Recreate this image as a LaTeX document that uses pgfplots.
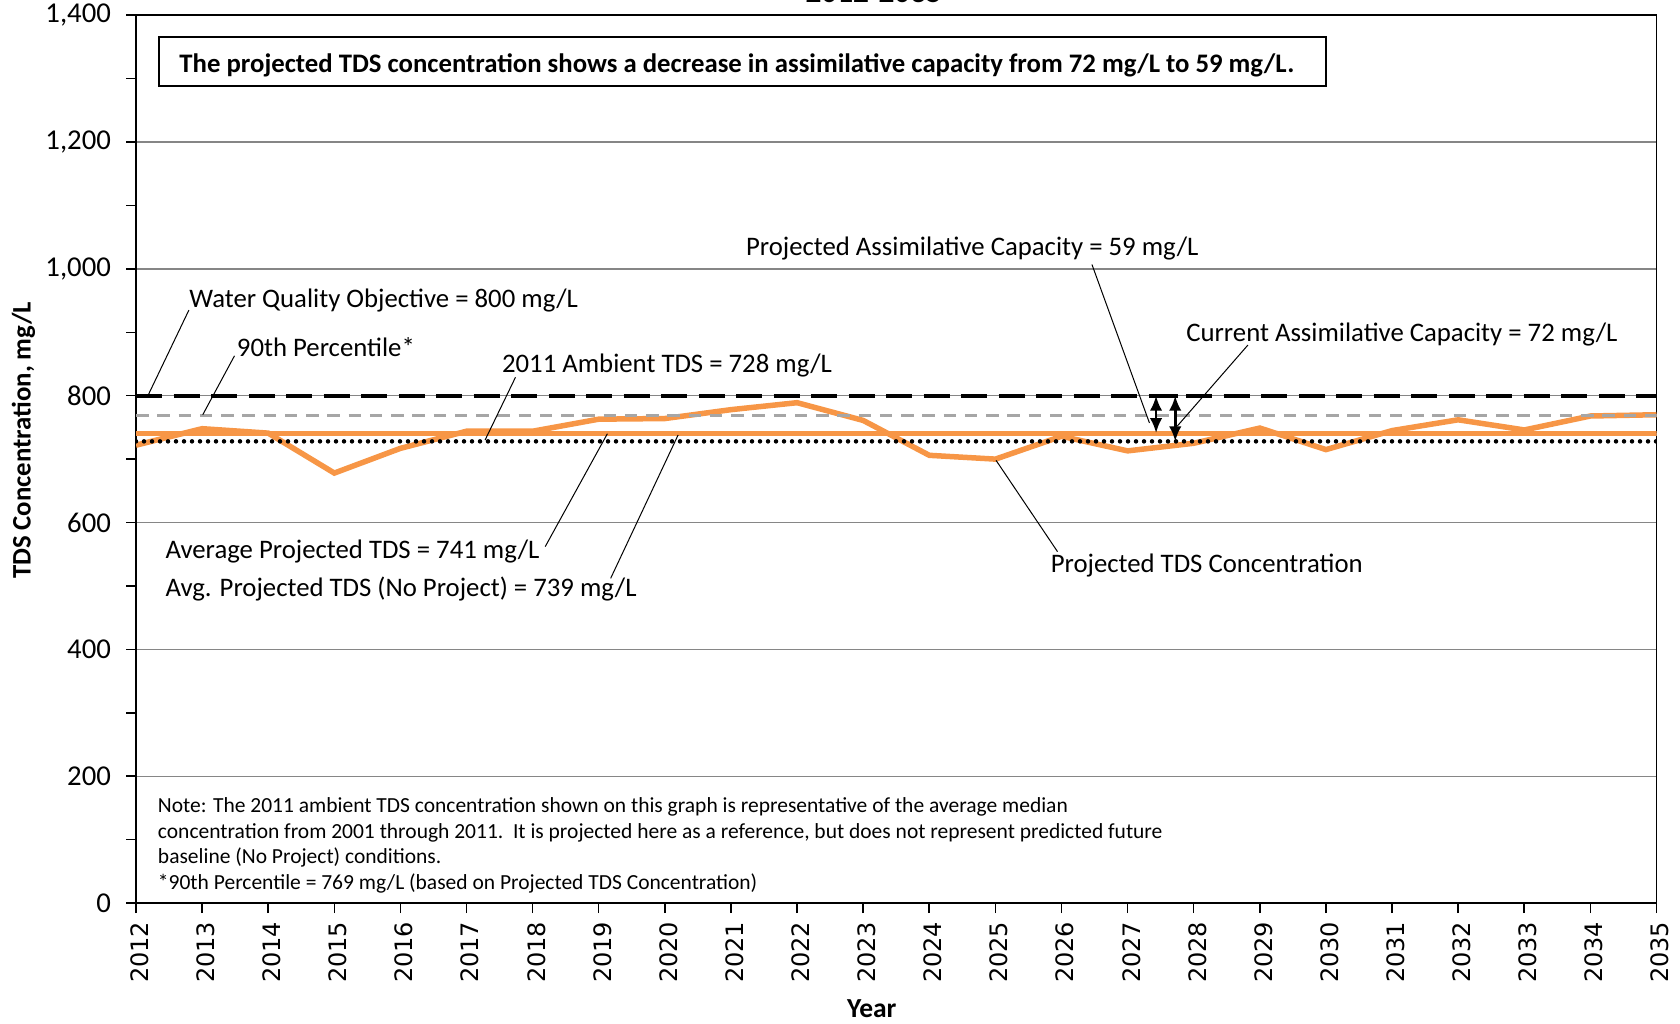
\documentclass[border=0pt]{standalone}
\usepackage{pgfplots}
\pgfplotsset{compat=1.18}
\usepackage{fontspec}
\setmainfont{Carlito}
\newfontfamily\dejavu{DejaVu Sans}
\usetikzlibrary{arrows.meta}

\definecolor{tdsorange}{HTML}{F79646}
\definecolor{pctgray}{HTML}{A6A6A6}
\definecolor{gridgray}{HTML}{868686}

\tikzset{
  annot/.style={anchor=west, inner sep=0pt, font=\fontsize{10.7}{12.5}\selectfont},
  note/.style={anchor=base west, inner sep=0pt, font=\fontsize{8.6}{10}\selectfont},
  leader/.style={black, line width=0.4pt},
  capacity/.style={{Latex[length=6pt,width=5pt]}-{Latex[length=6pt,width=5pt]}, line width=1.1pt},
}

% projected TDS concentration, mg/L
\pgfplotstableread{
year tds
2012 722
2013 748
2014 741
2015 678
2016 717
2017 744
2018 744
2019 763
2020 764
2021 778
2022 789
2023 761
2024 706
2025 700
2026 736
2027 713
2028 725
2029 749
2030 715
2031 745
2032 762
2033 746
2034 768
2035 770
}\projected

\begin{document}
\begin{tikzpicture}
\begin{axis}[
  scale only axis, width=608.2pt, height=355.1pt,
  xmin=2012, xmax=2035, ymin=0, ymax=1400,
  xtick={2012,...,2035}, ytick={0,200,...,1400}, minor y tick num=1,
  xtick pos=bottom, ytick pos=left,
  ymajorgrids, major grid style={gridgray, line width=0.5pt},
  axis line style={black, line width=0.6pt},
  tick style={black, line width=0.6pt}, major tick length=4pt, minor tick length=4pt,
  tick align=outside,
  /pgf/number format/assume math mode=true,
  x tick label style={font=\dejavu\fontsize{9.6}{11}\selectfont, rotate=90, anchor=east,
    yshift=-1.5pt, /pgf/number format/1000 sep={}},
  y tick label style={font=\fontsize{11.5}{13}\selectfont, xshift=-2.5pt},
]
% reference levels
\addplot[pctgray, line width=1.2pt, dash pattern=on 5pt off 3.5pt] coordinates {(2012,739) (2035,739)};
\addplot[tdsorange, line width=2pt] coordinates {(2012,741) (2035,741)};
\addplot[tdsorange, line width=2.2pt] table[x=year, y=tds] {\projected};
\addplot[pctgray, line width=1.2pt, dash pattern=on 5pt off 3.5pt] coordinates {(2012,769) (2035,769)};
\addplot[black, line width=1.8pt, line cap=round, dash pattern=on 0pt off 3.2pt] coordinates {(2012,728) (2035,728)};
\addplot[black, line width=1.6pt, dash pattern=on 10.5pt off 4.5pt] coordinates {(2012,800) (2035,800)};

% capacity arrows
\draw[black, line width=1.6pt] (axis cs:2027.33,800) -- (axis cs:2027.76,800);
\draw[capacity] (axis cs:2027.43,800) -- (axis cs:2027.43,741);
\draw[capacity] (axis cs:2027.72,800) -- (axis cs:2027.72,728);

% summary box
\draw[black, line width=0.8pt] (axis cs:2012.342,1289) rectangle (axis cs:2030.006,1365);
\node[anchor=west, inner sep=0pt, font=\bfseries\fontsize{10.7}{12.5}\selectfont] at (axis cs:2012.65,1321)
  {The projected TDS concentration shows a decrease in assimilative capacity from 72 mg/L to 59 mg/L.};

% labels and leaders
\node[annot] at (axis cs:2012.80,950) {Water Quality Objective = 800 mg/L};
\draw[leader] (axis cs:2012.80,935) -- (axis cs:2012.18,800);
\node[annot] at (axis cs:2013.52,876) {90th Percentile*};
\draw[leader] (axis cs:2013.49,863) -- (axis cs:2013.01,770);
\node[annot] at (axis cs:2017.53,848) {2011 Ambient TDS = 728 mg/L};
\draw[leader] (axis cs:2017.74,829) -- (axis cs:2017.28,730);
\node[annot] at (axis cs:2021.22,1032) {Projected Assimilative Capacity = 59 mg/L};
\draw[leader] (axis cs:2026.46,1007) -- (axis cs:2027.33,757);
\node[annot] at (axis cs:2027.88,897) {Current Assimilative Capacity = 72 mg/L};
\draw[leader] (axis cs:2028.82,880) -- (axis cs:2027.75,752);
\node[annot] at (axis cs:2012.44,555) {Average Projected TDS = 741 mg/L};
\draw[leader] (axis cs:2018.19,562) -- (axis cs:2019.13,740);
\node[annot] at (axis cs:2012.44,495) {Avg. Projected TDS (No Project) = 739 mg/L};
\draw[leader] (axis cs:2019.18,512) -- (axis cs:2020.20,738);
\node[annot] at (axis cs:2025.83,532) {Projected TDS Concentration};
\draw[leader] (axis cs:2025.94,554) -- (axis cs:2025.01,698);

% note
\node[note] at (axis cs:2012.325,143) {Note: The 2011 ambient TDS concentration shown on this graph is representative of the average median};
\node[note] at (axis cs:2012.325,102.5) {concentration from 2001 through 2011.\ \ It is projected here as a reference, but does not represent predicted future};
\node[note] at (axis cs:2012.325,62) {baseline (No Project) conditions.};
\node[note] at (axis cs:2012.325,21.5) {*90th Percentile = 769 mg/L (based on Projected TDS Concentration)};

\coordinate (ll) at (rel axis cs:0,0);
\coordinate (ur) at (rel axis cs:1,1);
\coordinate (ymid) at (rel axis cs:0,0.521);
\coordinate (xmid) at (axis cs:2023.13,0);
\coordinate (tmid) at (axis cs:2023.16,1400);
\end{axis}
\node[rotate=90, font=\bfseries\fontsize{10.7}{12.5}\selectfont] at ([xshift=-45pt]ymid) {TDS Concentration, mg/L};
\node[font=\bfseries\fontsize{11}{13}\selectfont] at ([yshift=-42.4pt]xmid) {Year};
\node[anchor=base, font=\bfseries\fontsize{12.5}{15}\selectfont] at ([yshift=4.9pt]tmid) {2012-2035};
\pgfresetboundingbox
\useasboundingbox ([shift={(-54.4pt,-48.4pt)}]ll) rectangle ([shift={(9.4pt,6.1pt)}]ur);
\end{tikzpicture}
\end{document}
